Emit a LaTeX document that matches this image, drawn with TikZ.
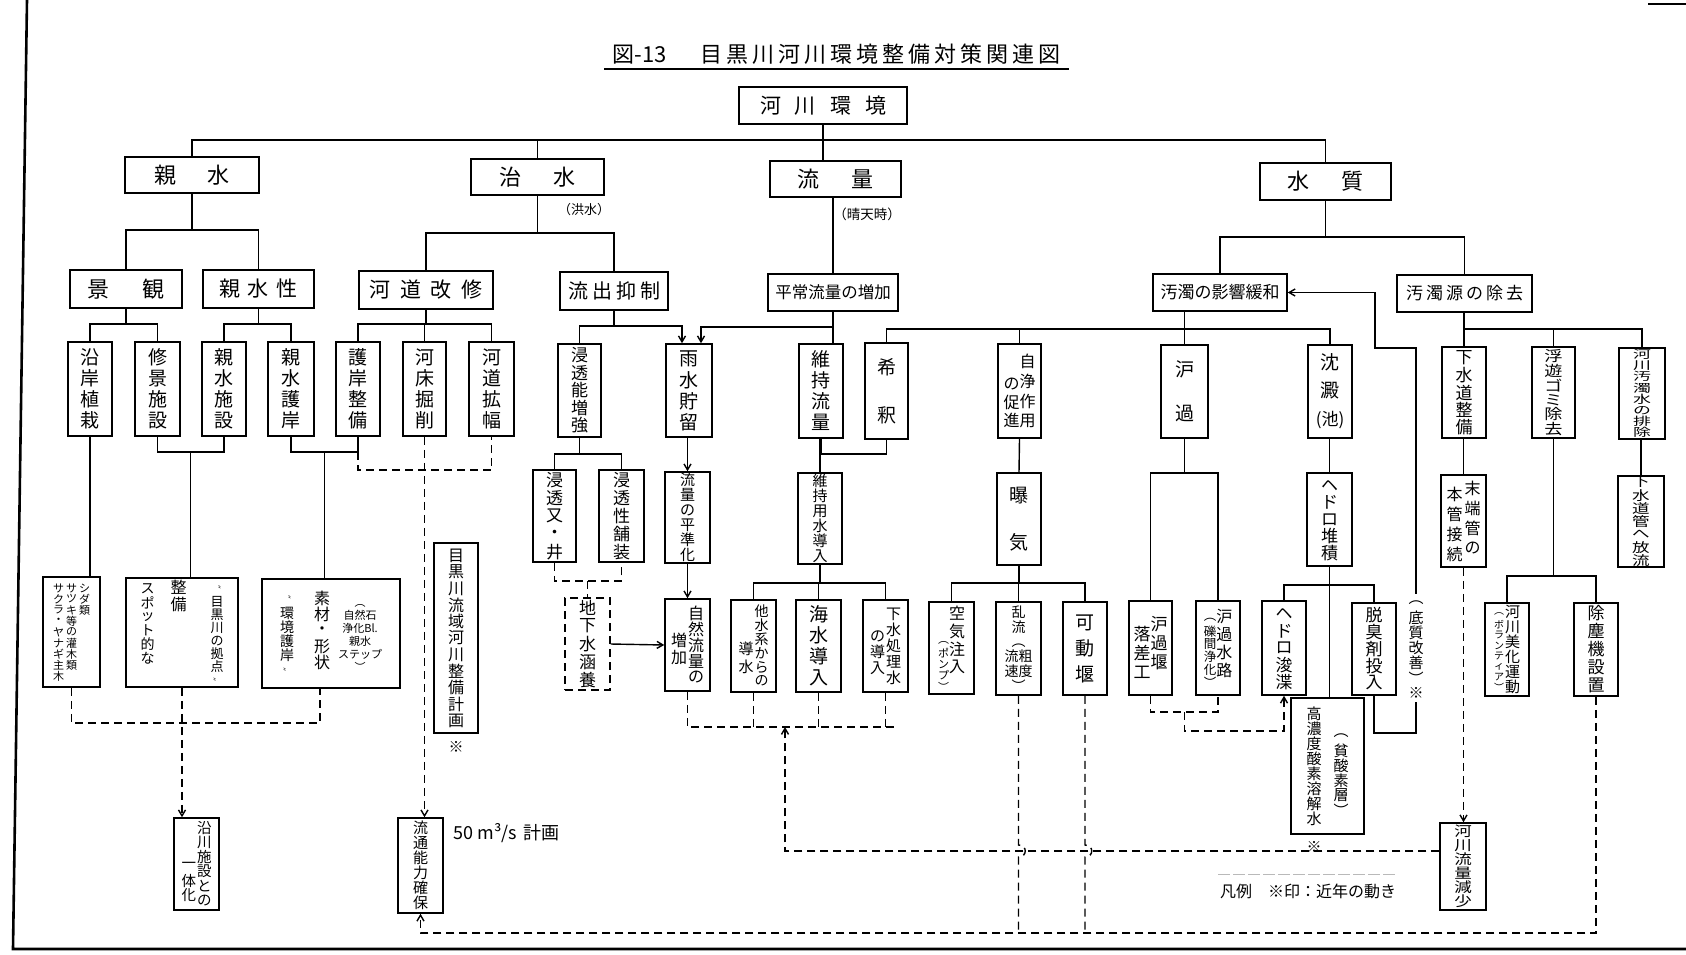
\documentclass[tikz,border=0pt]{standalone}
\usepackage{fontspec}
\usepackage{graphicx}
\setmainfont{Noto Sans CJK JP}
\usetikzlibrary{arrows.meta,calc}
\makeatletter
\newcommand\vt[2][1.1em]{\vtop{\offinterlineskip\@tfor\vt@c:=#2\do{\hbox to 1em{\hss\vbox to #1{\vss\hbox{\vt@c}\vss}\hss}}}}
\newcommand\vtx[3][1.1em]{\vtop{\offinterlineskip\@tfor\vt@c:=#3\do{\hbox to #2em{\hss\vbox to #1{\vss\hbox{\scalebox{#2}[1]{\vt@c}}\vss}\hss}}}}
\newcommand\hsp[2]{\@tfor\hs@c:=#2\do{\hs@c\hskip#1\relax}\unskip}
\makeatother
\newcommand\fs[1]{\fontsize{#1}{#1}\selectfont}
\newcommand\bxn[7][]{\node[bx,minimum width={#5pt-#3pt},minimum height={#6pt-#4pt},#1] (#2) at ({(#3+#5)/2},{(#4+#6)/2}) {#7};}
\tikzset{
  bx/.style={draw,line width=1.5pt,inner sep=0pt,align=center,font=\fontsize{19}{21}\selectfont},
  dsh/.style={dash pattern=on 8pt off 5pt},
  arr/.style={-{Straight Barb[length=6pt,width=7pt]}},
  lbl/.style={inner sep=1pt,align=center}
}
\begin{document}
\begin{tikzpicture}[x=1pt,y=-1pt,line width=1.4pt]
\fill[white] (0,0) rectangle (1686,954);
\useasboundingbox (0,0) rectangle (1686,954);
% frame
\draw[line width=2.6pt] (27,0) -- (13,949) -- (1686,949);
\draw[line width=2pt] (1648,4) -- (1686,4);
% title
\node[font=\fontsize{22}{24}\selectfont,anchor=base west,inner sep=0pt] (title) at (612,62) {図-13\hskip 34pt\hsp{4pt}{目黒川河川環境整備対策関連図}};
\draw ([xshift=-8pt,yshift=-7pt]title.base west) -- ([xshift=8pt,yshift=-7pt]title.base east);
% level 0/1/2
\bxn[font=\fontsize{21}{23}\selectfont]{kasen}{739}{87}{907}{124}{河\hspace{14pt}川\hspace{14pt}環\hspace{14pt}境}
\bxn[font=\fontsize{22}{24}\selectfont]{shinsui}{125}{157}{259}{193}{親\hspace{32pt}水}
\bxn[font=\fontsize{22}{24}\selectfont]{chisui}{471}{159}{604}{195}{治\hspace{32pt}水}
\bxn[font=\fontsize{22}{24}\selectfont]{ryuryo}{770}{161}{901}{197}{流\hspace{32pt}量}
\bxn[font=\fontsize{22}{24}\selectfont]{suishitsu}{1260}{163}{1391}{200}{水\hspace{32pt}質}
\node[lbl,font=\fontsize{13}{15}\selectfont] (kozui) at (584,210) {（洪水）};
\node[lbl,font=\fontsize{13.5}{15}\selectfont] (seiten) at (867,214) {（晴天時）};
\bxn[font=\fontsize{22}{24}\selectfont]{keikan}{70}{270}{182}{308}{景\hspace{34pt}観}
\bxn[font=\fontsize{21}{23}\selectfont]{shinsuisei}{203}{270}{314}{308}{親\hspace{8pt}水\hspace{8pt}性}
\bxn[font=\fontsize{21}{23}\selectfont]{kaidou}{359}{271}{493}{309}{河\hspace{10pt}道\hspace{10pt}改\hspace{10pt}修}
\bxn[font=\fontsize{20}{22}\selectfont]{ryushutsu}{560}{272}{668}{310}{\hsp{4pt}{流出抑制}}
\bxn[font=\fontsize{16.5}{18}\selectfont]{heijou}{768}{274}{898}{311}{平常流量の増加}
\bxn[font=\fontsize{17}{19}\selectfont]{odaku}{1153}{274}{1287}{311}{汚濁の影響緩和}
\bxn[font=\fontsize{17}{19}\selectfont]{odakugen}{1397}{275}{1532}{312}{\hsp{3pt}{汚濁源の除去}}
% row 1 left
\bxn{engan}{68}{342}{112}{436}{\vt{沿岸植栽}}
\bxn{shukei}{135}{342}{180}{436}{\vt{修景施設}}
\bxn{shinshisetsu}{202}{342}{246}{436}{\vt{親水施設}}
\bxn{shingogan}{268}{342}{314}{436}{\vt{親水護岸}}
\bxn{gogan}{336}{342}{380}{436}{\vt{護岸整備}}
\bxn{kashou}{403}{342}{446}{436}{\vt{河床掘削}}
\bxn{kakuhuku}{469}{342}{514}{436}{\vt{河道拡幅}}
% row 1 right
\bxn[font=\fs{17}]{shinto}{558}{344}{601}{437}{\vt[17.5pt]{浸透能増強}}
\bxn{usui}{666}{344}{712}{437}{\vt{雨水貯留}}
\bxn{iji}{799}{344}{843}{438}{\vt{維持流量}}
\bxn{kishaku}{865}{344}{908}{438}{\vt[48pt]{希釈}}
\bxn[font=\fs{16}]{jijou}{998}{344}{1041}{438}{\raisebox{-22pt}{\vt[18pt]{の促進}}\vt[20pt]{自浄作用}}
\bxn{roka}{1161}{345}{1208}{438}{\vt[44pt]{沪過}}
\bxn{chinden}{1308}{345}{1352}{438}{沈\\[7pt]澱\\[7pt]{\fontsize{17}{19}\selectfont(池)}}
\bxn[font=\fs{17}]{gesuido}{1442}{347}{1486}{438}{\vt[17.5pt]{下水道整備}}
\bxn[font=\fs{14.5}]{fuyu}{1532}{347}{1575}{438}{\vtx[14.5pt]{1.25}{浮遊ゴミ除去}}
\bxn[font=\fs{11.2}]{kasenodaku}{1619}{348}{1665}{439}{\vtx[11.2pt]{1.6}{河川汚濁水の排除}}
% row 2 left
\bxn[font=\fs{11}]{shida}{43}{577}{100}{687}{\vt[11pt]{サクラ・ヤナギ主木}\hspace{2pt}\vt[11pt]{サツキ等の灌木類}\hspace{2pt}\vt[11pt]{シダ類}}
\bxn[font=\fs{14}]{seibi}{126}{578}{238}{687}{\vt[14pt]{スポット的な}\hspace{16pt}{\fs{16}\vt[17pt]{整備}}\hspace{24pt}{\fs{13}\vt[13pt]{{\fs{8}〝}目黒川の拠点{\fs{8}〟}}}}
\bxn[font=\fs{14}]{kankyo}{262}{579}{400}{688}{\vt[14pt]{{\fs{8}〝}環境護岸{\fs{8}〟}}\hspace{20pt}{\fs{16}\vt[16pt]{素材・形状}}\hspace{8pt}{\fontsize{11}{12.5}\selectfont\begin{tabular}[t]{@{}c@{}}︵\\自然石\\浄化Bl.\\親水\\ステップ\\︶\end{tabular}}}
\bxn[font=\fs{14.5}]{ensen}{174}{818}{219}{910}{\raisebox{-38pt}{\vt[15pt]{一体化}}\hspace{1pt}\vt[14.5pt]{沿川施設との}}
\bxn[font=\fs{15}]{ryutsu}{398}{818}{443}{913}{\vt[15pt]{流通能力確保}}
\bxn[font=\fs{16},line width=1.1pt]{keikaku}{434}{543}{478}{733}{\vt[16.5pt]{目黒川流域河川整備計画}}
\node[lbl,font=\fs{15}] (kome1) at (456,747) {※};
\node[lbl,anchor=west,font=\fs{18}] (plan) at (452,833) {50 m³/s\hspace{6pt}計画};
% row 2 right
\bxn[font=\fs{17}]{masu}{533}{470}{576}{562}{\vt[18pt]{浸透又・井}}
\bxn[font=\fs{17}]{hoso}{599}{470}{644}{562}{\vt[18pt]{浸透性舗装}}
\bxn[font=\fs{17},dsh]{chikasui}{565}{598}{610}{690}{\vt[18pt]{地下水涵養}}
\bxn[font=\fs{15}]{heijunka}{665}{472}{710}{563}{\vt[15pt]{流量の平準化}}
\bxn[font=\fs{16}]{shizen}{665}{599}{710}{691}{\raisebox{-28pt}{\vt[18pt]{増加}}\hspace{1pt}\vt[16pt]{自然流量の}}
\bxn[font=\fs{15}]{ijiyousui}{798}{473}{842}{564}{\vt[15pt]{維持用水導入}}
\bxn[font=\fs{14}]{tasui}{731}{600}{776}{692}{\raisebox{-40pt}{\fs{15}\vt[18pt]{導水}}\hspace{1pt}\vt[14pt]{他水系からの}}
\bxn{kaisui}{796}{600}{841}{692}{\vt{海水導入}}
\bxn[font=\fs{15}]{gesuishori}{863}{600}{908}{692}{\raisebox{-22pt}{\vt[16pt]{の導入}}\hspace{1pt}\vt[16pt]{下水処理水}}
\bxn{kibaku}{997}{473}{1041}{565}{\vt[46pt]{曝気}}
\bxn[font=\fs{16}]{kuki}{929}{602}{974}{694}{\raisebox{-26pt}{\fs{11}\vt[11pt]{︵ポンプ︶}}\vt[18pt]{空気注入}}
\bxn[font=\fontsize{14}{14.8}\selectfont]{ranryu}{996}{602}{1041}{695}{乱\\流\\︵\\流粗\\速度\\︶}
\bxn{kadou}{1063}{602}{1107}{695}{\vt[26pt]{可動堰}}
\bxn[font=\fs{17}]{rakusa}{1129}{601}{1172}{695}{\raisebox{-10pt}{\vt[19pt]{落差工}}\vt[19pt]{沪過堰}}
\bxn[font=\fs{16}]{rokasuiro}{1196}{601}{1240}{695}{{\fs{12.5}\vt[12.5pt]{︵礫間浄化︶}}\vt[18pt]{沪過水路}}
\bxn[font=\fs{17}]{hedoro}{1307}{473}{1352}{566}{\vt[17pt]{ヘドロ堆積}}
\bxn[font=\fs{17}]{shunsetsu}{1262}{601}{1306}{695}{\vt[17pt]{ヘドロ浚渫}}
\bxn[font=\fs{17}]{dasshu}{1352}{603}{1396}{695}{\vt[17pt]{脱臭剤投入}}
\bxn[font=\fs{15},line width=1.1pt]{kounoudo}{1291}{698}{1364}{834}{\vt[15pt]{高濃度酸素溶解水}\hspace{12pt}\raisebox{-22pt}{\vt[15pt]{︵貧酸素層︶}}}
\node[lbl,font=\fs{15}] (kome2) at (1314,847) {※};
\node[lbl,font=\fs{15}] (teishitsu) at (1416,648) {\vt[15pt]{︵底質改善︶※}};
\bxn[font=\fs{16}]{mattan}{1441}{475}{1486}{567}{\raisebox{-6pt}{\vt[20pt]{本管接続}}\hspace{2pt}\vt[20pt]{末端管の}}
\bxn[font=\fs{14}]{kasenryuryo}{1440}{823}{1486}{910}{\vtx[14pt]{1.25}{河川流量減少}}
\bxn[font=\fs{15}]{bika}{1485}{603}{1529}{696}{{\fs{10}\vt[10.5pt]{︵ボランティア︶}}\hspace{1pt}\vt[15pt]{河川美化運動}}
\bxn[font=\fs{17}]{jojin}{1574}{603}{1618}{696}{\vt[18pt]{除塵機設置}}
\bxn[font=\fs{13}]{housui}{1618}{476}{1664}{567}{\vtx[13pt]{1.35}{下水道管へ放流}}
% legend
\node[lbl,font=\fs{16}] (legend) at (1308,891) {凡例\hspace{16pt}※印：近年の動き};
\draw[gray!55,dash pattern=on 12pt off 3pt,line width=0.8pt] ([yshift=7pt]legend.north west) -- ([yshift=7pt]legend.north east);
% ---- connectors
\coordinate (j140) at (0,140);
\draw (kasen.south) -- (kasen.south |- ryuryo.north);
\draw (shinsui.north) |- (suishitsu.north |- j140) -- (suishitsu.north);
\draw (chisui.north) -- (chisui.north |- j140);
\coordinate (j230) at (0,230);
\draw (shinsui.south) -- (shinsui.south |- j230);
\draw (keikan.north) |- (shinsuisei.north |- j230) -- (shinsuisei.north);
\coordinate (j233) at (0,233);
\draw (chisui.south) -- (chisui.south |- j233);
\draw (kaidou.north) |- (ryushutsu.north |- j233) -- (ryushutsu.north);
\draw (heijou.north |- ryuryo.south) -- (heijou.north);
\coordinate (j237) at (0,237);
\draw (suishitsu.south) -- (suishitsu.south |- j237);
\draw (odaku.north) |- (odakugen.north |- j237) -- (odakugen.north);
\coordinate (j324) at (0,324);
\draw (keikan.south) -- (keikan.south |- j324);
\draw (engan.north) |- (shukei.north |- j324) -- (shukei.north);
\draw (shinsuisei.south) -- (shinsuisei.south |- j324);
\draw (shinshisetsu.north) |- (shingogan.north |- j324) -- (shingogan.north);
\draw (kaidou.south) -- (kaidou.south |- j324);
\draw (gogan.north) |- (kakuhuku.north |- j324) -- (kakuhuku.north);
\draw (kashou.north) -- (kashou.north |- j324);
\coordinate (j326) at (0,326);
\draw (ryushutsu.south) -- (ryushutsu.south |- j326);
\draw[arr] (shinto.north) |- ([xshift=-7pt]usui.north |- j326) -- ([xshift=-7pt]usui.north);
\coordinate (j327) at (0,327);
\draw (heijou.south) -- (heijou.south |- iji.north);
\draw[arr] (heijou.south |- j327) -| ([xshift=12pt]usui.north);
\coordinate (j329) at (0,329);
\draw (roka.north |- odaku.south) -- (roka.north);
\draw (kishaku.north) |- (chinden.north |- j329) -- (chinden.north);
\draw (jijou.north) -- (jijou.north |- j329);
\draw (gesuido.north |- odakugen.south) -- (gesuido.north);
\draw (gesuido.north |- j329) -| (kasenodaku.north);
\draw (fuyu.north) -- (fuyu.north |- j329);
% left lower
\draw (engan.south) -- (engan.south |- shida.north);
\coordinate (j452) at (0,452);
\draw (shukei.south) |- (shinshisetsu.south |- j452) -- (shinshisetsu.south);
\coordinate (m1) at ($(shukei.south |- j452)!0.5!(shinshisetsu.south |- j452)$);
\draw (m1) -- (m1 |- seibi.north);
\draw (shingogan.south) |- (gogan.south |- j452) -- (gogan.south);
\coordinate (m2) at ($(shingogan.south |- j452)!0.5!(gogan.south |- j452)$);
\draw (m2) -- (m2 |- kankyo.north);
\coordinate (j470) at (0,470);
\draw[dsh] (gogan.south |- j452) |- (kakuhuku.south |- j470) -- (kakuhuku.south);
\draw[dsh,arr] (kashou.south) -- (kashou.south |- ryutsu.north);
\coordinate (j723) at (0,723);
\draw[dsh] (shida.south) |- ([xshift=-11pt]kankyo.south |- j723) -- ([xshift=-11pt]kankyo.south);
\draw[dsh,arr] (seibi.south) -- (seibi.south |- ensen.north);
% middle lower
\coordinate (j454) at (0,454);
\draw (shinto.south) -- (shinto.south |- j454);
\draw (masu.north) |- (hoso.north |- j454) -- (hoso.north);
\coordinate (j581) at (0,581);
\draw[dsh] (masu.south) |- (hoso.south |- j581) -- (hoso.south);
\draw[dsh] (chikasui.north |- j581) -- (chikasui.north);
\draw[arr] (chikasui.east) -- (shizen.west);
\draw[arr] (heijunka.north |- usui.south) -- (heijunka.north);
\draw[arr] (heijunka.south) -- (shizen.north);
\draw (kishaku.south) |- (iji.south |- j454) -- (iji.south);
\draw (ijiyousui.north |- iji.south) -- (ijiyousui.north);
\coordinate (j583) at (0,583);
\draw (ijiyousui.south) -- (ijiyousui.south |- j583);
\draw (tasui.north) |- (gesuishori.north |- j583) -- (gesuishori.north);
\draw (kaisui.north) -- (kaisui.north |- j583);
\coordinate (j727) at (0,727);
\draw[dsh] (shizen.south) |- ([xshift=8pt]gesuishori.south |- j727);
\draw[dsh] (tasui.south) -- (tasui.south |- j727);
\draw[dsh] (kaisui.south) -- (kaisui.south |- j727);
\draw[dsh] (gesuishori.south) -- (gesuishori.south |- j727);
\coordinate (j851) at (0,851);
\coordinate (brk) at (785,727);
\draw[dsh,arr] (kasenryuryo.west |- j851) -| (brk);
\draw (jijou.south) -- (kibaku.north);
\draw (kibaku.south) -- (kibaku.south |- j583);
\draw (kuki.north) |- (kadou.north |- j583) -- (kadou.north);
\draw (ranryu.north) -- (ranryu.north |- j583);
\coordinate (jbot) at (0,933);
\coordinate (ja) at (0,845);
\coordinate (jb) at (0,857);
\coordinate (r1) at (ranryu.south |- ja);
\coordinate (r2) at (ranryu.south |- jb);
\coordinate (k1) at (kadou.south |- ja);
\coordinate (k2) at (kadou.south |- jb);
\draw[dsh] (ranryu.south) -- (r1) .. controls ([xshift=9pt]r1) and ([xshift=9pt]r2) .. (r2) -- (ranryu.south |- jbot);
\draw[dsh] (kadou.south) -- (k1) .. controls ([xshift=9pt]k1) and ([xshift=9pt]k2) .. (k2) -- (kadou.south |- jbot);
\draw[dsh,arr] (jojin.south) |- (ryutsu.south |- jbot) -- (ryutsu.south);
% right lower
\coordinate (j473) at (0,473);
\draw (roka.south) -- (roka.south |- j473);
\draw (rakusa.north) |- (rokasuiro.north |- j473) -- (rokasuiro.north);
\coordinate (j712) at (0,712);
\draw[dsh] (rakusa.south) |- (rokasuiro.south |- j712) -- (rokasuiro.south);
\coordinate (m3) at ($(rakusa.south |- j712)!0.5!(rokasuiro.south |- j712)$);
\coordinate (j731) at (0,731);
\draw[dsh,arr] (m3) |- (shunsetsu.south |- j731) -- (shunsetsu.south);
\draw (hedoro.north |- chinden.south) -- (hedoro.north);
\coordinate (j585) at (0,585);
\draw (hedoro.south) -- (hedoro.south |- kounoudo.north);
\draw (shunsetsu.north) |- (dasshu.north |- j585) -- (dasshu.north);
\coordinate (j733) at (0,733);
\draw (dasshu.south) |- (teishitsu.south |- j733) -- (teishitsu.south);
\coordinate (k346) at (1375,348);
\draw[arr] (teishitsu.north) |- (k346) |- (odaku.east);
\draw (mattan.north |- gesuido.south) -- (mattan.north);
\draw[dsh,arr] (mattan.south) -- (mattan.south |- kasenryuryo.north);
\coordinate (j576) at (0,576);
\draw (fuyu.south) -- (fuyu.south |- j576);
\draw (bika.north) |- (jojin.north |- j576) -- (jojin.north);
\draw (housui.north |- kasenodaku.south) -- (housui.north);
\end{tikzpicture}
\end{document}
